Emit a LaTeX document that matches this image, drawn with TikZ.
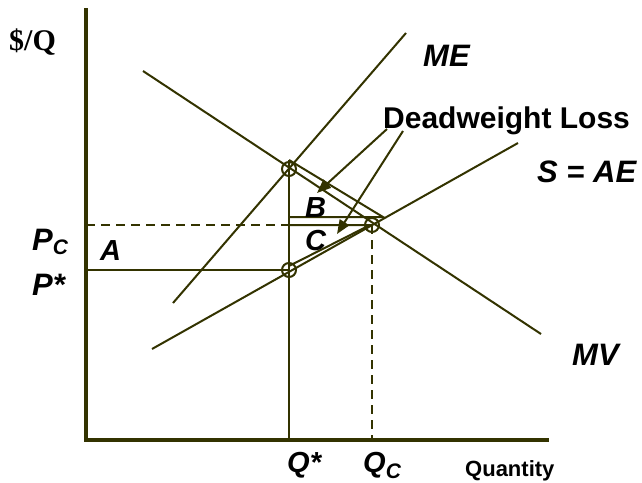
\documentclass[tikz,border=0pt]{standalone}
\usepackage{fontspec}
\setmainfont{Liberation Sans}
\newfontfamily\serifb{Liberation Serif}
\usetikzlibrary{arrows.meta}
\definecolor{olive}{rgb}{0.2,0.2,0}
\tikzset{
  curve/.style={draw=olive, line width=2pt},
  axisline/.style={draw=olive, line width=4.5pt},
  dashline/.style={draw=olive, line width=2pt, dash pattern=on 9pt off 6pt},
  ring/.style={draw=olive, line width=2pt, circle, minimum size=14pt, inner sep=0pt},
  lab/.style={anchor=base west, inner sep=0pt, font=\fontsize{31}{36}\selectfont\bfseries\itshape},
  ptr/.style={draw=olive, line width=2pt, -{Triangle[length=14pt,width=11pt]}},
}
\begin{document}
\begin{tikzpicture}[x=1pt,y=-1pt]
\useasboundingbox (0,0) rectangle (642,482);
% axes
\coordinate (ytop) at (86,8);
\coordinate (org) at (86,440);
\coordinate (xend) at (549,440);
\draw[axisline] (ytop) -- (org) -- (xend);
% key points
\coordinate (Etop) at (289,169);
\coordinate (Ec) at (372,225);
\coordinate (Es) at (289,270);
\coordinate (Qs) at (289,440);
\coordinate (Qc) at (372,440);
\coordinate (Pc) at (86,225);
\coordinate (Ps) at (86,270);
% curves
\coordinate (mv1) at (143,71);  \coordinate (mv2) at (541,334);
\coordinate (me1) at (173,303); \coordinate (me2) at (406,33);
\coordinate (ae1) at (152,349); \coordinate (ae2) at (518,143);
\draw[curve] (mv1) -- (mv2);
\draw[curve] (me1) -- (me2);
\draw[curve] (ae1) -- (ae2);
% guide lines
\draw[dashline] (Pc) -- (289,225);
\draw[dashline] (Ec) -- (Qc);
\draw[curve] (Ps) -- (Es);
\draw[curve] (289,160) -- (Qs);
% triangles B and C
\coordinate (b1) at (289,160); \coordinate (b2) at (383,217); \coordinate (b3) at (289,217);
\draw[curve] (b1) -- (b2) -- (b3);
\coordinate (c1) at (289,225); \coordinate (c2) at (370,225); \coordinate (c3) at (289,266);
\draw[curve] (c1) -- (c2) -- (c3);
% rings
\node[ring] (r1) at (Etop) {};
\node[ring] (r2) at (Ec) {};
\node[ring] (r3) at (Es) {};
% labels
\node[anchor=base west, inner sep=0pt, font=\fontsize{30}{34}\selectfont\serifb\bfseries] (yl) at (9,50) {\$/Q};
\node[lab] (me) at (423,66) {ME};
\node[anchor=base west, inner sep=0pt, font=\fontsize{30}{34}\selectfont\bfseries] (dwl) at (383,128) {Deadweight Loss};
\node[lab] (sae) at (537,182) {S = AE};
\node[lab] (mv) at (572,365) {MV};
\node[lab] (pc) at (32,250) {P\raisebox{-4pt}{\fontsize{21}{24}\selectfont C}};
\node[lab] (ps) at (32,295) {P*};
\node[lab, font=\fontsize{29}{34}\selectfont\bfseries\itshape] (la) at (100,260) {A};
\node[lab, font=\fontsize{29}{34}\selectfont\bfseries\itshape] (lb) at (305,217) {B};
\node[lab, font=\fontsize{29}{34}\selectfont\bfseries\itshape] (lc) at (305,250) {C};
\node[lab, font=\fontsize{29}{34}\selectfont\bfseries\itshape] (qs) at (287,472) {Q*};
\node[lab, font=\fontsize{29}{34}\selectfont\bfseries\itshape] (qc) at (363,472) {Q\raisebox{-6pt}{\fontsize{21}{24}\selectfont C}};
\node[anchor=base west, inner sep=0pt, font=\fontsize{22}{26}\selectfont\bfseries] (qty) at (465,476) {Quantity};
% pointers
\coordinate (pb0) at (387,129); \coordinate (pb1) at (317,193);
\coordinate (pc0) at (403,131); \coordinate (pc1) at (337,234);
\draw[ptr] (pb0) -- (pb1);
\draw[ptr] (pc0) -- (pc1);
\end{tikzpicture}
\end{document}
